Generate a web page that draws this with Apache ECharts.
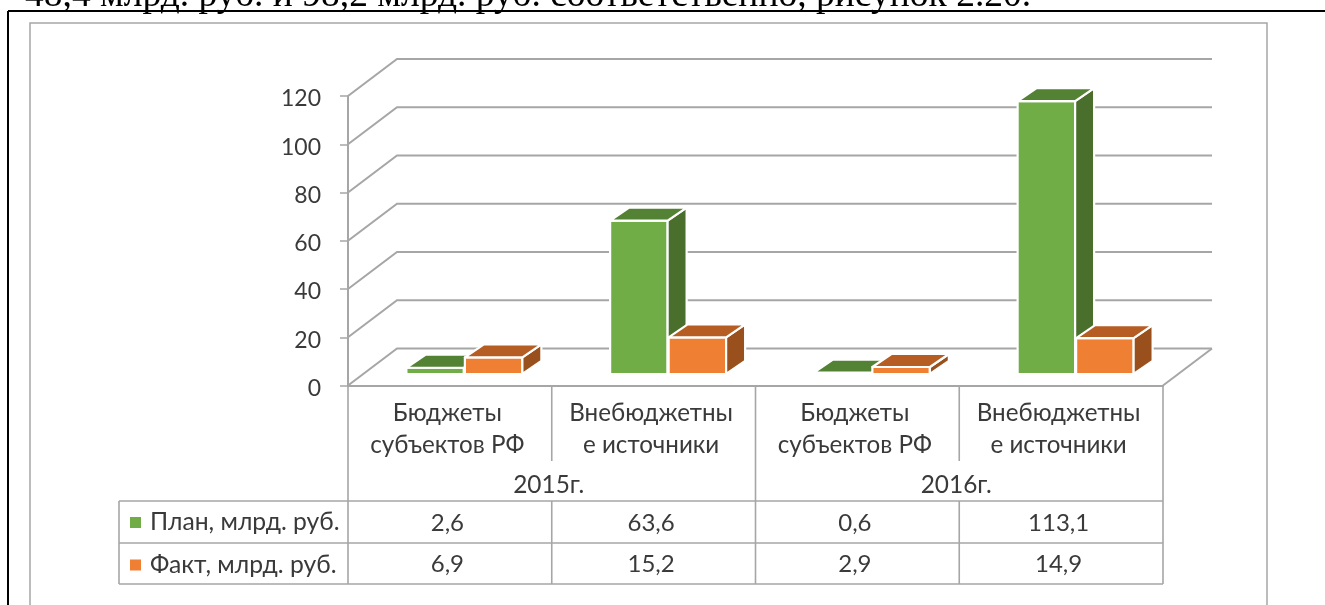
<!DOCTYPE html>
<html><head><meta charset="utf-8">
<style>html,body{margin:0;padding:0;background:#fff;overflow:hidden}#c{width:1325px;height:605px}</style>
<script src="https://cdn.jsdelivr.net/npm/echarts@6/dist/echarts.min.js"></script>
</head><body><div id="c"></div>
<script>
const categories = ['Бюджеты\nсубъектов РФ','Внебюджетны\nе источники','Бюджеты\nсубъектов РФ','Внебюджетны\nе источники'];
const years = ['2015г.','2016г.'];
const planName = 'План, млрд. руб.';
const factName = 'Факт, млрд. руб.';
const planValues = [2.6,63.6,0.6,113.1];
const factValues = [6.9,15.2,2.9,14.9];
const yTicks = [0,20,40,60,80,100,120];
const caption = '48,4 млрд. руб. и 98,2 млрд. руб. соответственно, рисунок 2.20.';

const FONT='Lato', TXT='#3a3a3a', LINE='#a6a6a6';
const WALL=[49,-37], DEPTH=[19,-13], LIFT=-11.5, SHIFT=14.5, BARW=58;
const TABLE={left:119,top:501,mid:543,bottom:584,gap:461};
const GREEN={front:'#70ad47',top:'#548235',side:'#4a6f2c'};
const ORANGE={front:'#ef7f32',top:'#b55d22',side:'#9a501c'};

function fmt(v){return String(v).replace('.',',');}

function wallItem(p,api){
  const cs=p.coordSys, y=api.coord([0,api.value(1)])[1], x0=cs.x, x1=cs.x+cs.width;
  const children=[{type:'polyline',shape:{points:[[x0,y],[x0+WALL[0],y+WALL[1]],[x1+WALL[0],y+WALL[1]]]},
    style:{fill:null,stroke:LINE,lineWidth:2}}];
  if(api.value(1)===0) children.push({type:'line',shape:{x1:x1,y1:y,x2:x1+WALL[0],y2:y+WALL[1]},style:{stroke:LINE,lineWidth:2}});
  return {type:'group',children};
}
function barItem(colors,side){
  return function(p,api){
    const top=api.coord([api.value(0),api.value(1)]), base=api.coord([api.value(0),0]);
    const cx=top[0]+SHIFT, l=side<0?cx-BARW:cx+0.5, r=l+BARW-0.5;
    const t=top[1]+LIFT, b=base[1]+LIFT, dx=DEPTH[0], dy=DEPTH[1];
    const st=c=>({fill:c,stroke:'#fff',lineWidth:2.2,lineJoin:'round'});
    return {type:'group',children:[
      {type:'polygon',shape:{points:[[l,b],[r,b],[r,t],[l,t]]},style:st(colors.front)},
      {type:'polygon',shape:{points:[[r,b],[r+dx,b+dy],[r+dx,t+dy],[r,t]]},style:st(colors.side)},
      {type:'polygon',shape:{points:[[l,t],[r,t],[r+dx,t+dy],[l+dx,t+dy]]},style:st(colors.top)}
    ]};
  };
}
function tableItem(p,api){
  const i=api.value(0), c=api.coord([i,0])[0], w=api.size([1,0])[0], x0=c-w/2, x1=c+w/2, base=api.coord([i,0])[1];
  const ln=(a,b,d,e)=>({type:'line',shape:{x1:a,y1:b,x2:d,y2:e},style:{stroke:LINE,lineWidth:1.6}});
  const tx=(s,y)=>({type:'text',style:{text:s,x:c-2.5,y:y+1,align:'center',verticalAlign:'middle',font:'24px '+FONT,fill:TXT}});
  const children=[
    ln(x0,base,x0,i%2===0?TABLE.top:TABLE.gap),
    ln(x0,TABLE.top,x0,TABLE.bottom),
    tx(fmt(api.value(1)),(TABLE.top+TABLE.mid)/2),
    tx(fmt(api.value(2)),(TABLE.mid+TABLE.bottom)/2)
  ];
  if(i===categories.length-1){children.push(ln(x1,base,x1,TABLE.bottom));}
  return {type:'group',children};
}
const chart=echarts.init(document.getElementById('c'),null,{renderer:'canvas'});
chart.setOption({
  animation:false,backgroundColor:'#fff',
  grid:{left:348,width:815,top:96,height:289.5,containLabel:false},
  legend:{show:true,orient:'vertical',left:125,top:505,itemWidth:11,itemHeight:11,itemGap:17.5,selectedMode:false,
    icon:'rect',textStyle:{fontFamily:FONT,fontSize:24.7,color:TXT,padding:[0,0,0,4]},data:[planName,factName]},
  xAxis:[
   {type:'category',data:categories,position:'bottom',axisLine:{show:true,lineStyle:{color:LINE,width:2}},axisTick:{show:false},
    axisLabel:{interval:0,fontFamily:FONT,fontSize:24.2,color:TXT,lineHeight:32,margin:12,padding:[0,5,0,0]}},
   {type:'category',data:years,position:'bottom',axisLine:{show:false},axisTick:{show:false},
    axisLabel:{interval:0,fontFamily:FONT,fontSize:24.4,color:TXT,margin:88,padding:[0,6,0,0]}}
  ],
  yAxis:{type:'value',min:0,max:120,interval:20,axisLine:{show:true,lineStyle:{color:LINE,width:2}},
    axisTick:{show:true,length:8,lineStyle:{color:LINE,width:1.5}},splitLine:{show:false},
    axisLabel:{margin:27,formatter:'{a|{value}}',rich:{a:{fontFamily:FONT,fontSize:23,color:TXT,padding:[6,0,0,0]}}}},
  graphic:[
    {type:'text',silent:true,style:{text:caption,x:25,y:-23,font:'37.5px "Liberation Serif"',fill:'#000'}},
    {type:'line',silent:true,shape:{x1:8,y1:11,x2:1325,y2:11},style:{stroke:'#000',lineWidth:2}},
    {type:'line',silent:true,shape:{x1:8,y1:11,x2:8,y2:605},style:{stroke:'#000',lineWidth:2}},
    {type:'polyline',silent:true,shape:{points:[[30,605],[30,23],[1267,23],[1267,605]]},style:{fill:null,stroke:'#a6a6a6',lineWidth:1.5}},
    {type:'line',silent:true,z:5,shape:{x1:119,y1:501,x2:1163,y2:501},style:{stroke:LINE,lineWidth:1.6}},
    {type:'line',silent:true,z:5,shape:{x1:119,y1:543,x2:1163,y2:543},style:{stroke:LINE,lineWidth:1.6}},
    {type:'line',silent:true,z:5,shape:{x1:119,y1:584,x2:1163,y2:584},style:{stroke:LINE,lineWidth:1.6}},
    {type:'line',silent:true,z:5,shape:{x1:119,y1:501,x2:119,y2:584},style:{stroke:LINE,lineWidth:1.6}}
  ],
  series:[
    {type:'custom',name:'walls',z:1,silent:true,renderItem:wallItem,data:yTicks.map(v=>[0,v]),encode:{x:0,y:1}},
    {type:'custom',name:planName,z:3,silent:true,itemStyle:{color:GREEN.front},renderItem:barItem(GREEN,-1),data:planValues.map((v,i)=>[i,v]),encode:{x:0,y:1}},
    {type:'custom',name:factName,z:4,silent:true,itemStyle:{color:ORANGE.front},renderItem:barItem(ORANGE,1),data:factValues.map((v,i)=>[i,v]),encode:{x:0,y:1}},
    {type:'custom',name:'table',z:5,silent:true,renderItem:tableItem,data:categories.map((c,i)=>[i,planValues[i],factValues[i]]),encode:{x:0,y:1}}
  ]
});
</script></body></html>
